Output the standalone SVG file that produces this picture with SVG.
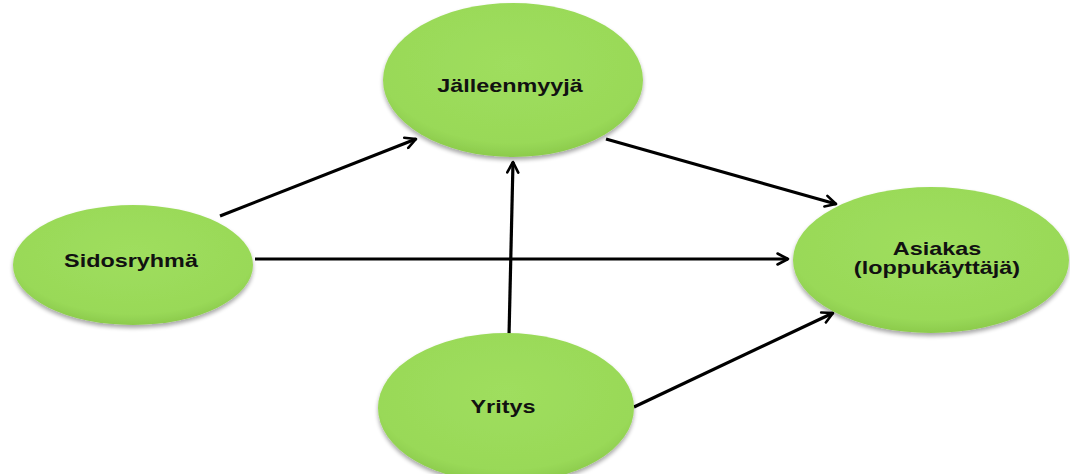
<svg xmlns="http://www.w3.org/2000/svg" width="1070" height="474" viewBox="0 0 1070 474">
<defs>
<radialGradient id="g" cx="50%" cy="40%" r="60%">
<stop offset="0%" stop-color="#9FDE5E"/>
<stop offset="85%" stop-color="#99D958"/>
<stop offset="100%" stop-color="#8CCB4C"/>
</radialGradient>
<filter id="sh" x="-10%" y="-10%" width="120%" height="125%">
<feGaussianBlur in="SourceAlpha" stdDeviation="2"/>
<feOffset dx="0" dy="3" result="b"/>
<feComponentTransfer><feFuncA type="linear" slope="0.35"/></feComponentTransfer>
<feMerge><feMergeNode/><feMergeNode in="SourceGraphic"/></feMerge>
</filter>
<marker id="ah" viewBox="0 0 14 14" refX="12" refY="7" markerWidth="14" markerHeight="14" markerUnits="userSpaceOnUse" orient="auto">
<path d="M1.5,1.5 L12,7 L1.5,12.5" fill="none" stroke="#000" stroke-width="2.6" stroke-linecap="round" stroke-linejoin="round"/>
</marker>
</defs>
<style>
.n{fill:url(#g);filter:url(#sh)}
.t{font-family:"Liberation Sans",Arial,sans-serif;font-weight:bold;font-size:18px;fill:#111;text-anchor:middle}
.c{stroke:#000;stroke-width:3.2;fill:none;marker-end:url(#ah)}
</style>
<rect width="1070" height="474" fill="#fff"/>
<g id="connectors">
<line class="c" x1="220" y1="216" x2="416" y2="139"/>
<line class="c" x1="255" y1="259" x2="788" y2="259"/>
<line class="c" x1="509" y1="336" x2="513" y2="162"/>
<line class="c" x1="606" y1="139" x2="836" y2="204"/>
<line class="c" x1="634" y1="407" x2="833" y2="313"/>
</g>
<g id="jalleenmyyja">
<ellipse class="n" cx="513" cy="80" rx="130" ry="77"/>
<text class="t" transform="translate(510,92) scale(1.3,1)">Jälleenmyyjä</text>
</g>
<g id="sidosryhma">
<ellipse class="n" cx="133" cy="265" rx="120" ry="60"/>
<text class="t" transform="translate(131,267) scale(1.3,1)">Sidosryhmä</text>
</g>
<g id="asiakas">
<ellipse class="n" cx="931" cy="260" rx="138" ry="73"/>
<text class="t" transform="translate(937,255) scale(1.3,1)">Asiakas</text>
<text class="t" transform="translate(937,274) scale(1.3,1)">(loppukäyttäjä)</text>
</g>
<g id="yritys">
<ellipse class="n" cx="506" cy="408" rx="128" ry="75"/>
<text class="t" transform="translate(503,413) scale(1.3,1)">Yritys</text>
</g>
</svg>
